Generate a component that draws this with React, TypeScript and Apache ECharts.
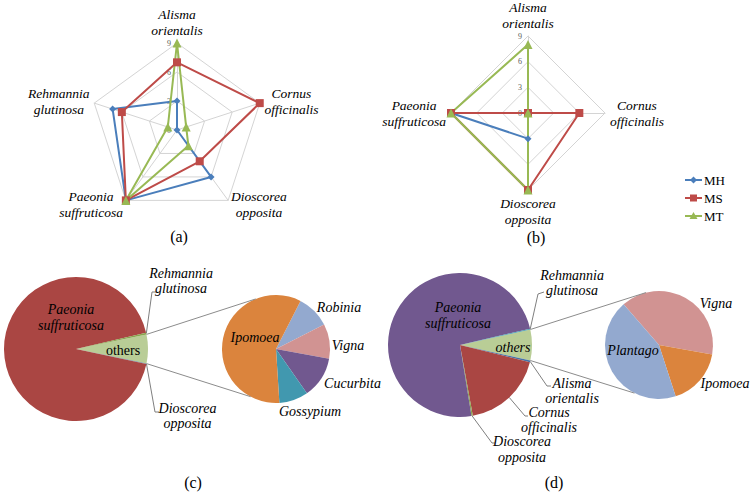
import React, { useEffect, useRef } from 'react';
import * as echarts from 'echarts';

// ---------------- data ----------------
// radar (a): indicators in counter-clockwise order starting at the top
const radarAIndicators = ['Alisma\norientalis', 'Rehmannia\nglutinosa', 'Paeonia\nsuffruticosa', 'Dioscorea\nopposita', 'Cornus\nofficinalis'];
const radarA_MH = [3, 7, 9, 6, 0];
const radarA_MS = [7, 6, 9, 4, 9];
const radarA_MT = [9, 1, 9, 2, 1];

// radar (b)
const radarBIndicators = ['Alisma\norientalis', 'Paeonia\nsuffruticosa', 'Dioscorea\nopposita', 'Cornus\nofficinalis'];
const radarB_MH = [0, 9, 3, 0];
const radarB_MS = [0, 9, 9, 6];
const radarB_MT = [8, 9, 9, 0];

const radarMin = 0;
const radarMax = 9;
const radarSplits = 3;
const groupNames = ['MH', 'MS', 'MT'];

// pie-of-pie (c)
const pieCMainNames = ['others', 'Dioscorea\nopposita', 'Paeonia\nsuffruticosa', 'Rehmannia\nglutinosa'];
const pieCMainValues = [6.5, 0.1, 93.0, 0.4];
const pieCSubNames = ['Robinia', 'Vigna', 'Cucurbita', 'Gossypium', 'Ipomoea'];
const pieCSubValues = [10.0, 10.4, 12.4, 8.7, 58.5];

// pie-of-pie (d)
const pieDMainNames = ['others', 'Alisma\norientalis', 'Cornus\nofficinalis', 'Dioscorea\nopposita', 'Paeonia\nsuffruticosa', 'Rehmannia\nglutinosa'];
const pieDMainValues = [6.9, 0.4, 18.3, 0.3, 73.9, 0.2];
const pieDSubNames = ['Vigna', 'Ipomoea', 'Plantago'];
const pieDSubValues = [39.2, 17.2, 43.6];

const panelLabels = ['(a)', '(b)', '(c)', '(d)'];

// ---------------- styles / layout ----------------
const SERIF = 'Liberation Serif';
const groupColors: Record<string, string> = { MH: '#4A7EBB', MS: '#BE4B48', MT: '#98B954' };
const groupSymbols: Record<string, string> = { MH: 'diamond', MS: 'rect', MT: 'triangle' };
const groupSymbolSize: Record<string, number> = { MH: 7, MS: 8, MT: 9 };

const pieCMainColors = ['#B9CD96', '#4572A7', '#AA4643', '#89A54E'];
const pieCSubColors = ['#93A9CF', '#D19392', '#71588F', '#4198AF', '#DB843D'];
const pieDMainColors = ['#B9CD96', '#4572A7', '#AA4643', '#89A54E', '#71588F', '#4198AF'];
const pieDSubColors = ['#D19392', '#DB843D', '#93A9CF'];

const PIE_C_MAIN = { c: [76, 349], r: 72 };
const PIE_C_SUB = { c: [276, 349], r: 54, start: 63, connTop: 112, connBottom: 242 };
const PIE_D_MAIN = { c: [460, 345], r: 72 };
const PIE_D_SUB = { c: [659, 345], r: 54, start: 131, connTop: 104, connBottom: 243 };

type LabelPos = { x: number; y: number; hook?: number[][]; normal?: boolean };

const LAB_C_MAIN: LabelPos[] = [
  { x: 123, y: 350, normal: true },
  { x: 187.5, y: 416, hook: [[155, 412], [159, 412]] },
  { x: 71, y: 317.5 },
  { x: 181, y: 281, hook: [[152, 292], [156, 292]] },
];
const LAB_C_SUB: LabelPos[] = [
  { x: 339, y: 307 },
  { x: 348, y: 345 },
  { x: 352.5, y: 383 },
  { x: 310, y: 411 },
  { x: 255, y: 337 },
];
const LAB_D_MAIN: LabelPos[] = [
  { x: 513, y: 347 },
  { x: 572, y: 391, hook: [[547, 386], [551, 386]] },
  { x: 549, y: 420, hook: [[525, 416], [528, 416]] },
  { x: 522, y: 449.5, hook: [[492, 443], [495, 443]] },
  { x: 458, y: 315.5 },
  { x: 572, y: 283, hook: [[538, 294], [544, 292]] },
];
const LAB_D_SUB: LabelPos[] = [
  { x: 716, y: 303 },
  { x: 725, y: 383 },
  { x: 633, y: 350 },
];

const PANEL_POS = [[179, 236], [536, 237], [193, 482], [554, 482]];
const LEGEND_POS = { x1: 685, x2: 702, tx: 704, y0: 180, dy: 18 };

// ---------------- helpers ----------------
const sum = (a: number[]) => a.reduce((s, v) => s + v, 0);
const rad = (d: number) => (d * Math.PI) / 180;
const polar = (c: number[], r: number, deg: number) => [c[0] + r * Math.cos(rad(deg)), c[1] - r * Math.sin(rad(deg))];
function midAngles(values: number[], start: number) {
  const total = sum(values);
  let acc = 0;
  return values.map((v) => {
    const m = start - ((acc + v / 2) / total) * 360;
    acc += v;
    return m;
  });
}

function radarConfig(names: string[], center: number[], radius: number) {
  return {
    center,
    radius,
    startAngle: 90,
    shape: 'polygon',
    splitNumber: radarSplits,
    nameGap: 5,
    axisName: {
      color: '#000',
      fontFamily: SERIF,
      fontStyle: 'italic',
      fontSize: 13.5,
      lineHeight: 16,
      formatter: (v: string) => v.split('\n').map((s) => `{c|${s}}`).join('\n'),
      rich: {
        c: { align: 'center', color: '#000', fontFamily: SERIF, fontStyle: 'italic', fontSize: 13.5, lineHeight: 16 },
      },
    },
    axisLine: { show: true, lineStyle: { color: '#d4d4d4', width: 1 } },
    splitLine: { show: true, lineStyle: { color: '#d4d4d4', width: 1 } },
    splitArea: { show: false },
    axisTick: { show: false },
    axisLabel: { show: false },
    indicator: names.map((n, i) => ({
      name: n,
      min: radarMin,
      max: radarMax,
      axisLabel:
        i === 0
          ? { show: true, fontSize: 8, color: '#595959', fontFamily: SERIF, margin: 6, showMinLabel: true, showMaxLabel: true }
          : { show: false },
    })),
  };
}

function radarSeries(radarIndex: number, values: number[][]) {
  return groupNames.map((g, i) => ({
    type: 'radar',
    radarIndex,
    name: g,
    symbol: groupSymbols[g],
    symbolSize: groupSymbolSize[g],
    lineStyle: { color: groupColors[g], width: 2 },
    itemStyle: { color: groupColors[g] },
    data: [{ name: g, value: values[i] }],
  }));
}

function pieSeries(names: string[], values: number[], colors: string[], geom: { c: number[]; r: number }, start: number, labels: LabelPos[]) {
  const mids = midAngles(values, start);
  return {
    type: 'pie',
    center: geom.c,
    radius: [0, geom.r],
    startAngle: start,
    clockwise: true,
    avoidLabelOverlap: false,
    silent: true,
    itemStyle: { borderWidth: 0 },
    label: {
      show: true,
      position: 'outside',
      formatter: '{b}',
      color: '#000',
      fontFamily: SERIF,
      fontStyle: 'italic',
      fontSize: 14,
      lineHeight: 15.5,
      align: 'center',
    },
    labelLine: { show: false },
    data: names.map((n, i) => ({
      name: n,
      value: values[i],
      itemStyle: { color: colors[i] },
      label: labels[i].normal ? { fontStyle: 'normal' } : {},
      labelLine: labels[i].hook ? { show: true, lineStyle: { color: '#7f7f7f', width: 1 } } : { show: false },
    })),
    labelLayout: (params: any) => {
      const p = labels[params.dataIndex];
      const out: any = { x: p.x, y: p.y, align: 'center', verticalAlign: 'middle' };
      if (p.hook) out.labelLinePoints = [polar(geom.c, geom.r, mids[params.dataIndex]), ...p.hook];
      return out;
    },
  };
}

function connectors(mainValues: number[], main: { c: number[]; r: number }, sub: any) {
  const half = (mainValues[0] / sum(mainValues)) * 180;
  const a1 = polar(main.c, main.r, half);
  const a2 = polar(main.c, main.r, -half);
  const b1 = polar(sub.c, sub.r, sub.connTop);
  const b2 = polar(sub.c, sub.r, sub.connBottom);
  const st = { stroke: '#8c8c8c', lineWidth: 1 };
  return [
    { type: 'line', shape: { x1: a1[0], y1: a1[1], x2: b1[0], y2: b1[1] }, style: st, z: 10 },
    { type: 'line', shape: { x1: a2[0], y1: a2[1], x2: b2[0], y2: b2[1] }, style: st, z: 10 },
  ];
}

function legendGraphics() {
  const els: any[] = [];
  groupNames.forEach((g, i) => {
    const y = LEGEND_POS.y0 + i * LEGEND_POS.dy;
    const cx = (LEGEND_POS.x1 + LEGEND_POS.x2) / 2;
    const col = groupColors[g];
    els.push({ type: 'line', shape: { x1: LEGEND_POS.x1, y1: y, x2: LEGEND_POS.x2, y2: y }, style: { stroke: col, lineWidth: 2 } });
    if (g === 'MH') {
      els.push({ type: 'polygon', shape: { points: [[cx, y - 3.5], [cx + 3.5, y], [cx, y + 3.5], [cx - 3.5, y]] }, style: { fill: col } });
    } else if (g === 'MS') {
      els.push({ type: 'rect', shape: { x: cx - 3.5, y: y - 3.5, width: 7, height: 7 }, style: { fill: col } });
    } else {
      els.push({ type: 'polygon', shape: { points: [[cx, y - 4], [cx + 4, y + 3], [cx - 4, y + 3]] }, style: { fill: col } });
    }
    els.push({
      type: 'text',
      x: LEGEND_POS.tx,
      y,
      style: { text: g, fill: '#000', fontFamily: SERIF, fontSize: 13, textAlign: 'left', textVerticalAlign: 'middle', align: 'left', verticalAlign: 'middle' },
    });
  });
  return els;
}

function panelGraphics() {
  return panelLabels.map((t, i) => ({
    type: 'text',
    x: PANEL_POS[i][0],
    y: PANEL_POS[i][1],
    style: { text: t, fill: '#000', fontFamily: SERIF, fontSize: 16, textAlign: 'center', textVerticalAlign: 'middle', align: 'center', verticalAlign: 'middle' },
  }));
}

export default function App() {
  const ref = useRef<HTMLDivElement>(null);
  useEffect(() => {
    document.body.style.margin = '0';
    if (!ref.current) return;
    const chart = echarts.init(ref.current, undefined, { renderer: 'svg' });
    const option: any = {
      animation: false,
      backgroundColor: '#ffffff',
      textStyle: { fontFamily: SERIF },
      radar: [radarConfig(radarAIndicators, [177, 130], 87), radarConfig(radarBIndicators, [528, 113], 77)],
      series: [
        ...radarSeries(0, [radarA_MH, radarA_MS, radarA_MT]),
        ...radarSeries(1, [radarB_MH, radarB_MS, radarB_MT]),
        pieSeries(pieCMainNames, pieCMainValues, pieCMainColors, PIE_C_MAIN, (pieCMainValues[0] / sum(pieCMainValues)) * 180, LAB_C_MAIN),
        pieSeries(pieCSubNames, pieCSubValues, pieCSubColors, PIE_C_SUB, PIE_C_SUB.start, LAB_C_SUB),
        pieSeries(pieDMainNames, pieDMainValues, pieDMainColors, PIE_D_MAIN, (pieDMainValues[0] / sum(pieDMainValues)) * 180, LAB_D_MAIN),
        pieSeries(pieDSubNames, pieDSubValues, pieDSubColors, PIE_D_SUB, PIE_D_SUB.start, LAB_D_SUB),
      ],
      graphic: [
        ...connectors(pieCMainValues, PIE_C_MAIN, PIE_C_SUB),
        ...connectors(pieDMainValues, PIE_D_MAIN, PIE_D_SUB),
        ...legendGraphics(),
        ...panelGraphics(),
      ],
    };
    chart.setOption(option);
    return () => chart.dispose();
  }, []);
  return <div ref={ref} style={{ position: 'fixed', left: 0, top: 0, width: 752, height: 492, background: '#fff' }} />;
}
